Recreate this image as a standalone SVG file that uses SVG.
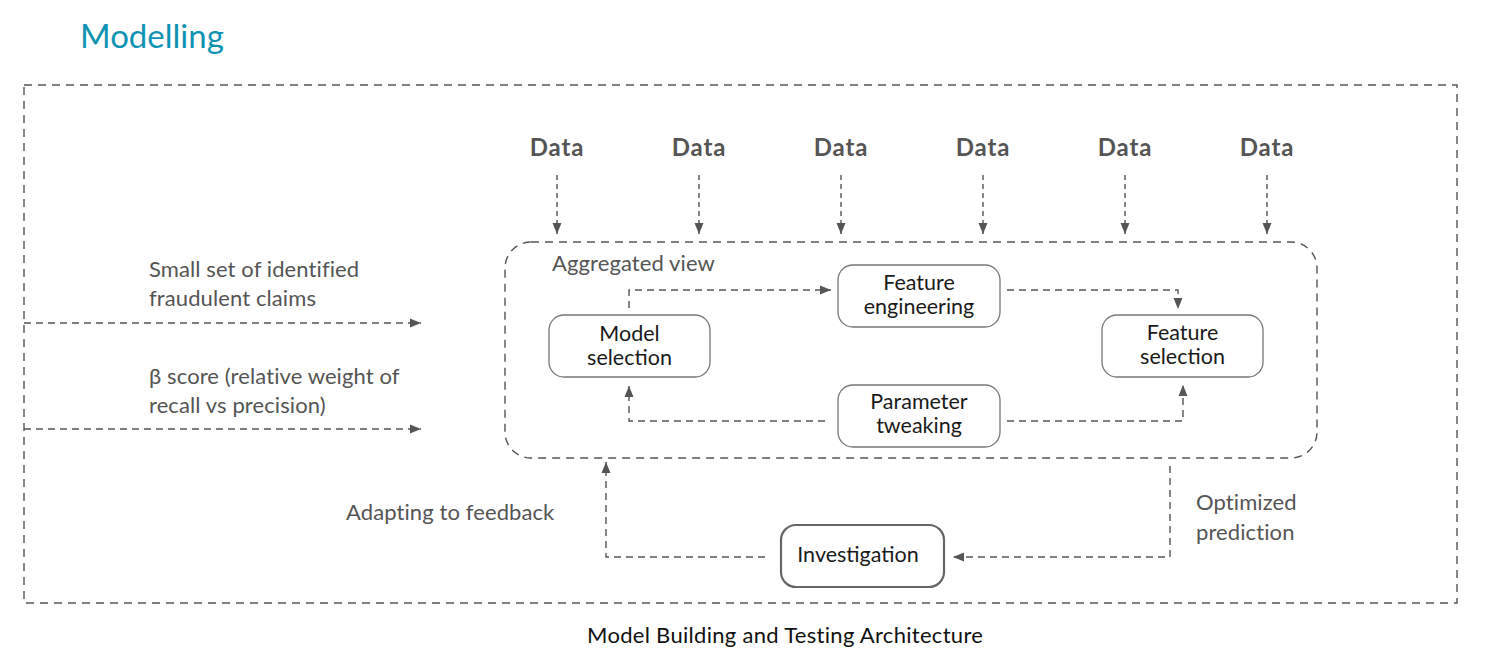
<svg xmlns="http://www.w3.org/2000/svg" width="1507" height="671" viewBox="0 0 1507 671">
<style>
text{font-family:Lato,"Open Sans","Liberation Sans",sans-serif;}
.title{font-size:33px;fill:#0f93b3;}
.data{font-size:24px;font-weight:bold;fill:#555;text-anchor:middle;letter-spacing:0.8px;}
.lbl{font-size:22px;fill:#555;letter-spacing:0.1px;}
.node{font-size:21.5px;fill:#1a1a1a;text-anchor:middle;}
.cap{font-size:22px;fill:#111;letter-spacing:0.3px;}
.box{fill:#fff;stroke:#777;stroke-width:1.3;}
.frame{fill:none;stroke:#555;stroke-width:1.4;stroke-dasharray:8 6;}
.c{fill:none;stroke:#555;stroke-width:1.4;stroke-dasharray:7 5;marker-end:url(#ah);}
.cd{fill:none;stroke:#555;stroke-width:1.4;stroke-dasharray:5 4;marker-end:url(#ah);}
</style>
<defs>
<marker id="ah" markerUnits="userSpaceOnUse" markerWidth="12" markerHeight="12" viewBox="0 0 12 12" refX="11" refY="6" orient="auto">
<path d="M0,1.5 L11,6 L0,10.5 Z" fill="#555"/>
</marker>
</defs>
<rect width="1507" height="671" fill="#fff"/>
<text class="title" x="80" y="48">Modelling</text>
<rect id="outer-frame" class="frame" x="24" y="85" width="1433" height="518"/>
<rect id="aggregated-frame" class="frame" x="505" y="242" width="812" height="216" rx="26"/>
<text class="lbl" x="552" y="271">Aggregated view</text>

<g id="data-labels">
<text class="data" x="557" y="156">Data</text>
<text class="data" x="699" y="156">Data</text>
<text class="data" x="841" y="156">Data</text>
<text class="data" x="983" y="156">Data</text>
<text class="data" x="1125" y="156">Data</text>
<text class="data" x="1267" y="156">Data</text>
</g>

<g id="connectors">
<path class="cd" d="M557,175 V234"/>
<path class="cd" d="M699,175 V234"/>
<path class="cd" d="M841,175 V234"/>
<path class="cd" d="M983,175 V234"/>
<path class="cd" d="M1125,175 V234"/>
<path class="cd" d="M1267,175 V234"/>
<path class="c" d="M24,323 H421"/>
<path class="c" d="M24,429 H421"/>
<path class="c" d="M629,308 V290 H831"/>
<path class="c" d="M1007,290 H1178 V309"/>
<path class="c" d="M1007,421 H1183 V385"/>
<path class="c" d="M825,421 H629 V386"/>
<path class="c" d="M1170,466 V557 H953"/>
<path class="c" d="M765,557 H606 V462"/>
</g>

<g id="model-selection">
<rect class="box" x="549" y="315" width="161" height="62" rx="15"/>
<text class="node" x="629.5" y="341">Model</text>
<text class="node" x="629.5" y="365">selection</text>
</g>
<g id="feature-engineering">
<rect class="box" x="838" y="265" width="162" height="62" rx="15"/>
<text class="node" x="919" y="290">Feature</text>
<text class="node" x="919" y="314">engineering</text>
</g>
<g id="feature-selection">
<rect class="box" x="1102" y="315" width="161" height="62" rx="15"/>
<text class="node" x="1182.5" y="340">Feature</text>
<text class="node" x="1182.5" y="364">selection</text>
</g>
<g id="parameter-tweaking">
<rect class="box" x="838" y="385" width="162" height="62" rx="15"/>
<text class="node" x="919" y="409">Parameter</text>
<text class="node" x="919" y="433">tweaking</text>
</g>
<g id="investigation">
<rect x="781" y="525" width="163" height="62" rx="15" fill="#fff" stroke="#666" stroke-width="2.2"/>
<text class="node" x="858" y="562">Investigation</text>
</g>

<g id="labels">
<text class="lbl" x="149" y="277">Small set of identified</text>
<text class="lbl" x="149" y="306">fraudulent claims</text>
<text class="lbl" x="149" y="384">β score (relative weight of</text>
<text class="lbl" x="149" y="413">recall vs precision)</text>
<text class="lbl" x="346" y="520">Adapting to feedback</text>
<text class="lbl" x="1196" y="510">Optimized</text>
<text class="lbl" x="1196" y="540">prediction</text>
</g>
<text class="cap" x="587" y="643">Model Building and Testing Architecture</text>
</svg>
